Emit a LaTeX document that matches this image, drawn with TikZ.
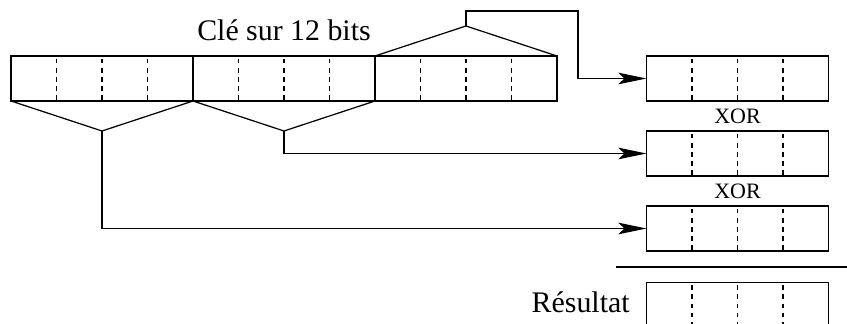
\documentclass[tikz,border=0pt]{standalone}
\usepackage{fontspec}
\setmainfont{Liberation Serif}
\usepackage{tikz}
\usetikzlibrary{positioning, calc, arrows.meta}
\tikzstyle{block} = [rectangle, draw=black, line width=0.7pt, minimum width=3.64cm, minimum height=0.9cm, inner sep=0pt, outer sep=0pt]
\tikzstyle{cell} = [line width=0.7pt, dash pattern=on 2.6pt off 2.6pt, dash phase=-1.6pt]
\tikzstyle{wire} = [line width=0.7pt]
\tikzstyle{arrow} = [line width=0.7pt, -{Stealth[length=16pt, width=6.6pt, inset=3.4pt]}]
\tikzstyle{bigtext} = [font=\fontsize{17}{20}\selectfont, inner sep=0pt]
\tikzstyle{xortext} = [font=\fontsize{12.5}{15}\selectfont, inner sep=0pt]

\begin{document}
\begin{tikzpicture}
	\useasboundingbox (0,0) rectangle (16.94,-6.48);

	% key, three parts of 4 bits
	\node (k1) [block] at (2.04,-1.57) {};
	\node (k2) [block, right=0pt of k1] {};
	\node (k3) [block, right=0pt of k2] {};
	\node (title) [bigtext, above=0.3cm of k2.north, anchor=base] {Clé sur 12 bits};

	% parts to combine
	\node (r1) [block] at (14.75,-1.57) {};
	\node (r2) [block, below=0.6cm of r1] {};
	\node (r3) [block, below=0.6cm of r2] {};
	\node (res) [block, below=0.63cm of r3] {};
	\path (r1.south) -- node[xortext] (xor1) {XOR} (r2.north);
	\path (r2.south) -- node[xortext] (xor2) {XOR} (r3.north);
	\node (restext) [bigtext, left=0.33cm of res.west, anchor=base east, yshift=-0.15cm] {Résultat};

	% bit cells
	\foreach \b in {k1,k2,k3,r1,r2,r3,res}
		\foreach \i in {1,2,3}
			\draw [cell] ($(\b.north west)!\i/4!(\b.north east)$) -- ($(\b.south west)!\i/4!(\b.south east)$);

	% funnels
	\coordinate (a1) at ([yshift=-0.6cm]k1.south);
	\coordinate (a2) at ([yshift=-0.6cm]k2.south);
	\coordinate (a3) at ([yshift=0.6cm]k3.north);
	\draw [wire] (k1.south west) -- (a1) -- (k1.south east);
	\draw [wire] (k2.south west) -- (a2) -- (k2.south east);
	\draw [wire] (k3.north west) -- (a3) -- (k3.north east);

	\coordinate (t3) at ([yshift=0.3cm]a3);
	\path (k3.east |- t3) ++(0.42cm,0) coordinate (c3);
	\draw [arrow] (a3) -- (t3) -- (c3) |- (r1.west);
	\draw [arrow] (a2) |- (r2.west);
	\draw [arrow] (a1) |- (r3.west);

	% sum line
	\path ([xshift=-0.62cm,yshift=-0.32cm]r3.south west) coordinate (l1);
	\path ([xshift=0.38cm,yshift=-0.32cm]r3.south east) coordinate (l2);
	\draw [wire] (l1) -- (l2);
\end{tikzpicture}
\end{document}
